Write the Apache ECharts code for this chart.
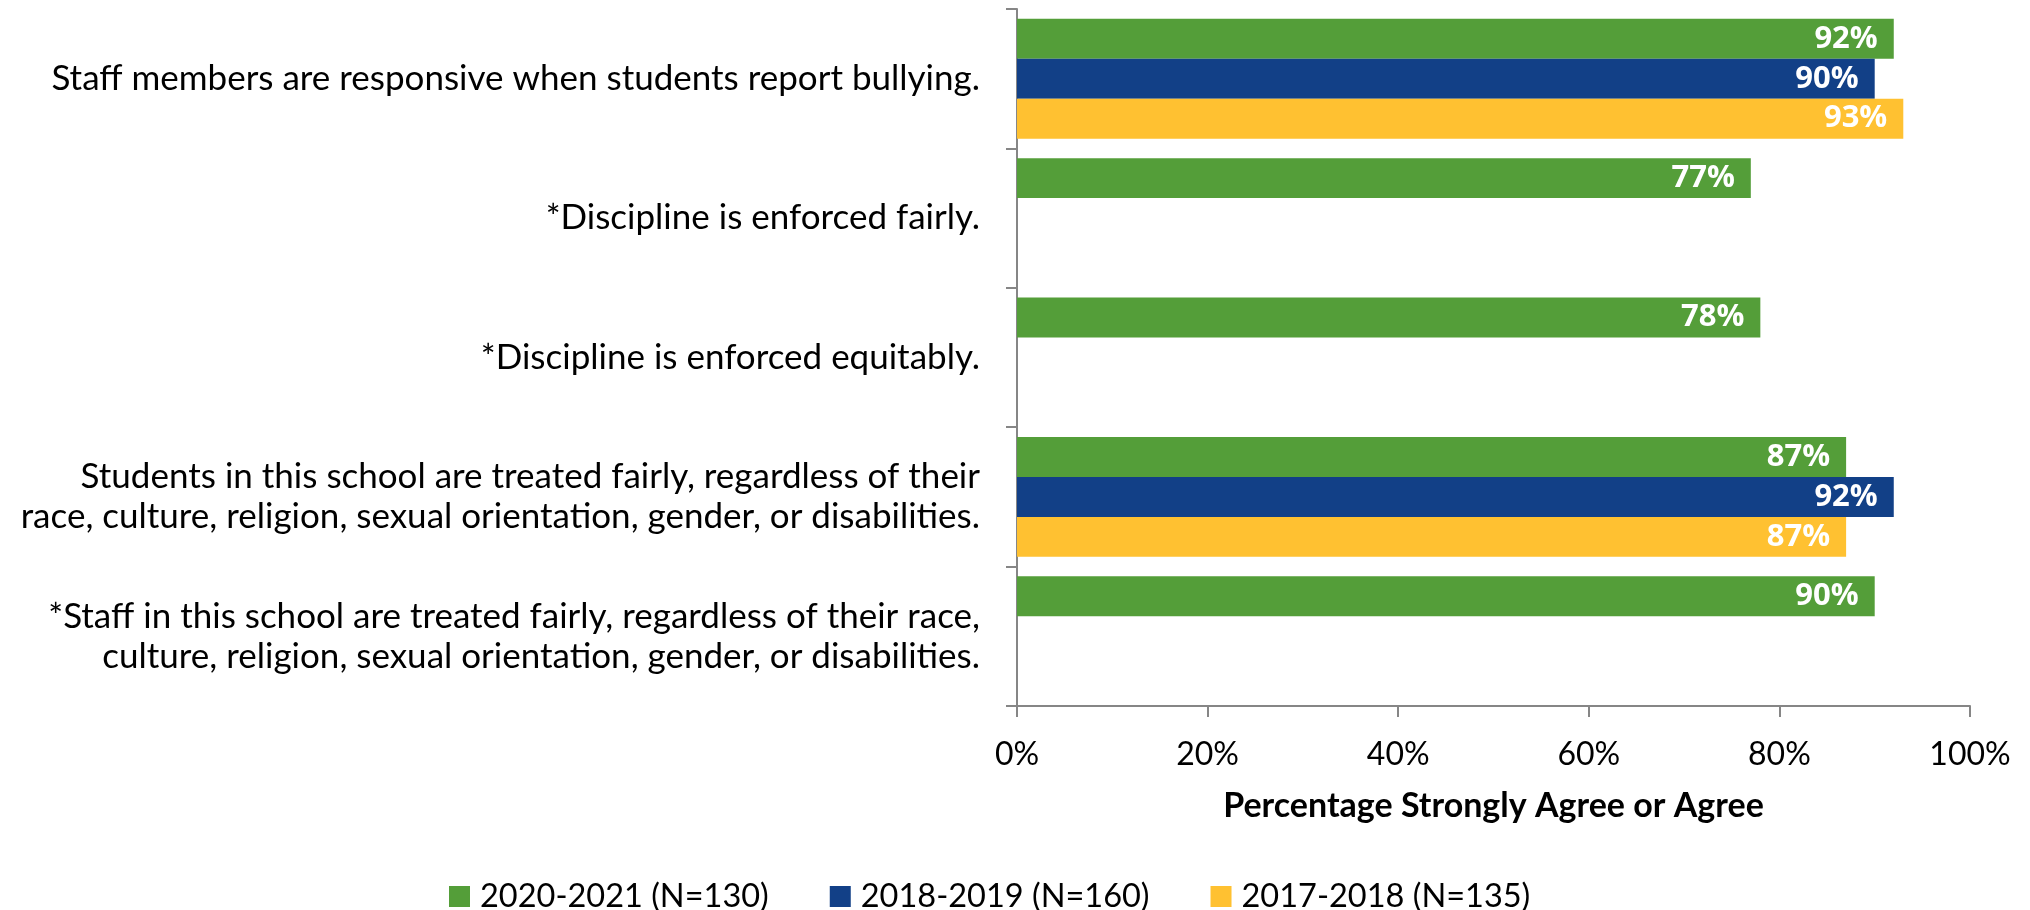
<!DOCTYPE html>
<html>
<head>
<meta charset="utf-8">
<script src="https://cdn.jsdelivr.net/npm/echarts@6/dist/echarts.min.js"></script>
<style>
html,body{margin:0;padding:0;background:#fff;}
#chart{width:2030px;height:910px;}
</style>
</head>
<body>
<div id="chart"></div>
<script>
const categories = [
  "Staff members are responsive when students report bullying.",
  "*Discipline is enforced fairly.",
  "*Discipline is enforced equitably.",
  "Students in this school are treated fairly, regardless of their\nrace, culture, religion, sexual orientation, gender, or disabilities.",
  "*Staff in this school are treated fairly, regardless of their race,\nculture, religion, sexual orientation, gender, or disabilities."
];
const seriesNames = ["2020-2021 (N=130)", "2018-2019 (N=160)", "2017-2018 (N=135)"];
const values2020 = [92, 77, 78, 87, 90];
const values2018 = [90, null, null, 92, null];
const values2017 = [93, null, null, 87, null];
const xTicks = [0, 20, 40, 60, 80, 100];
const colors = ["#549E39", "#124087", "#FFC131"];

const chart = echarts.init(document.getElementById('chart'));
const labelFont = "Lato, 'Open Sans', sans-serif";
const barLabel = {
  show: true,
  position: 'insideRight',
  distance: 16,
  color: '#fff',
  fontWeight: 'bold',
  fontSize: 31,
  fontFamily: "'Open Sans', sans-serif",
  formatter: p => p.value + '%'
};
const allData = [values2020, values2018, values2017];
chart.setOption({
  animation: false,
  grid: { left: 1017, right: 60, top: 9, bottom: 204, containLabel: false },
  legend: {
    left: 444,
    top: 875,
    itemWidth: 21,
    itemHeight: 21,
    itemGap: 61,
    icon: 'rect',
    textStyle: { fontSize: 32.5, fontFamily: labelFont, color: '#000', padding: [0, 0, 0, 5] },
    data: seriesNames
  },
  xAxis: {
    type: 'value',
    min: xTicks[0],
    max: xTicks[xTicks.length - 1],
    interval: 20,
    name: 'Percentage Strongly Agree or Agree',
    nameLocation: 'middle',
    nameGap: 83,
    nameTextStyle: { fontSize: 34, fontWeight: 'bold', fontFamily: labelFont, color: '#000' },
    axisLine: { show: true, lineStyle: { color: '#868686', width: 2 } },
    axisTick: { show: true, length: 11, lineStyle: { color: '#868686', width: 2 } },
    splitLine: { show: false },
    axisLabel: { formatter: '{value}%', fontSize: 32, fontFamily: labelFont, color: '#000', margin: 33 }
  },
  yAxis: {
    type: 'category',
    inverse: true,
    data: categories,
    axisLine: { show: true, lineStyle: { color: '#868686', width: 2 } },
    axisTick: { show: true, length: 11, lineStyle: { color: '#868686', width: 2 } },
    axisLabel: { fontSize: 35, fontFamily: labelFont, color: '#000', margin: 37, align: 'right', lineHeight: 40 }
  },
  series: seriesNames.map((n, i) => ({
    name: n,
    type: 'bar',
    data: allData[i],
    barGap: '0%',
    barCategoryGap: '14%',
    itemStyle: { color: colors[i] },
    label: barLabel
  }))
});
</script>
</body>
</html>
